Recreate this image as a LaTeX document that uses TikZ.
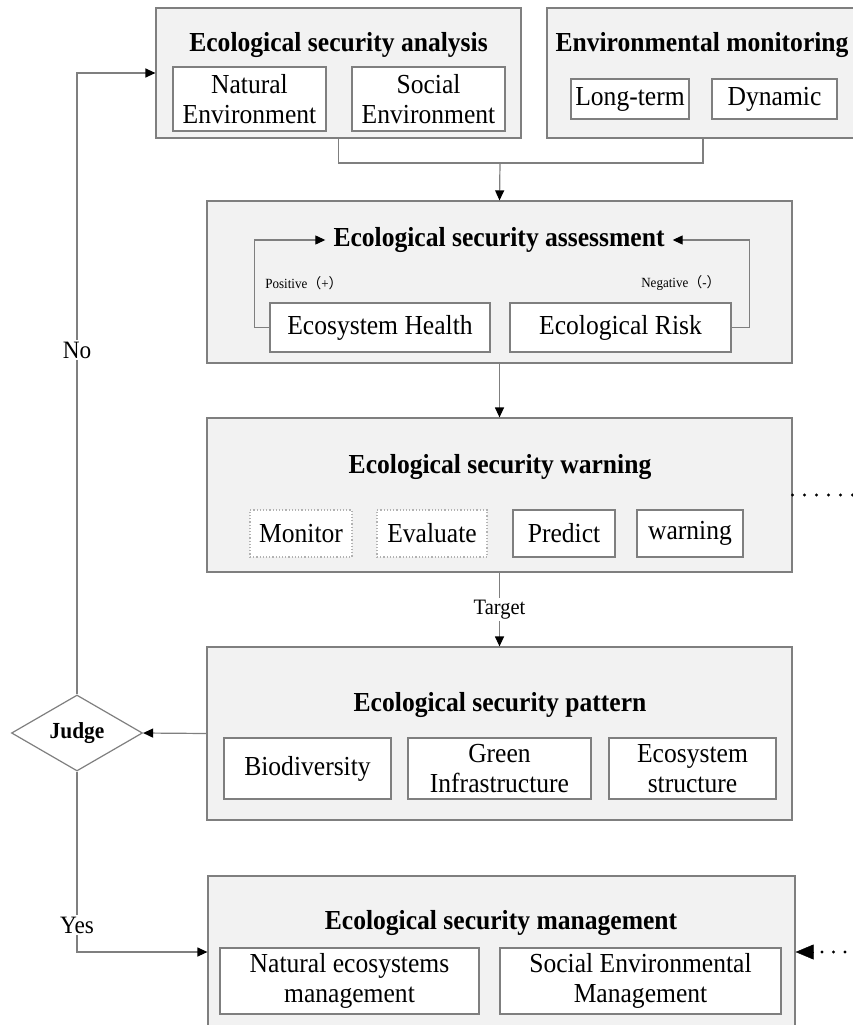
\documentclass[tikz,border=0pt]{standalone}
\usepackage{fontspec}
\setmainfont[FakeStretch=0.93]{Liberation Serif}
\newfontfamily\cjk{Noto Sans CJK SC}
\usetikzlibrary{shapes.geometric,arrows.meta}
\definecolor{panelgray}{HTML}{F2F2F2}
\definecolor{linegray}{HTML}{7F7F7F}
\newcommand\boxfont{\fontsize{27.5}{30}\selectfont}
\tikzstyle{panel}=[draw=linegray, fill=panelgray, line width=1.2pt, inner sep=0pt]
\tikzstyle{item}=[draw=linegray, fill=white, line width=1.2pt, inner sep=0pt, align=center, font=\boxfont]
\tikzstyle{dotitem}=[item, draw=gray!60, dotted]
\tikzstyle{title}=[inner sep=0pt, inner xsep=8pt, font=\boxfont\bfseries]
\tikzstyle{link}=[draw=linegray, line width=1.2pt]
\tikzstyle{flow}=[link, -{Triangle[length=10pt,width=9pt,color=black]}]
\tikzstyle{note}=[fill=white, inner sep=2pt]
\tikzstyle{more}=[line width=3.3pt, line cap=round]

\begin{document}
\begin{tikzpicture}[x=1pt, y=-1pt]
\useasboundingbox (0,0) rectangle (853,1025);
\clip (0,0) rectangle (853,1025);
% Analysis and monitoring
    \node[panel, minimum width=365pt, minimum height=130pt] (ana) at (338.5,73) {};
    \node[title] (anat) at (338.5,45) {Ecological security analysis};
    \node[item, minimum width=153pt, minimum height=64pt] (natenv) at (249.5,99) {Natural\\Environment};
    \node[item, minimum width=153pt, minimum height=64pt] (socenv) at (428.5,99) {Social\\Environment};
    \node[panel, minimum width=312pt, minimum height=130pt] (mon) at (703,73) {};
    \node[title] (mont) at (702,45) {Environmental monitoring};
    \node[item, minimum width=118pt, minimum height=40pt] (longt) at (630,99) {Long-term};
    \node[item, minimum width=125pt, minimum height=40pt] (dyn) at (774.5,99) {Dynamic};
% Assessment
    \node[panel, minimum width=585pt, minimum height=162pt] (asm) at (499.5,282) {};
    \node[title] (asmt) at (499,240) {Ecological security assessment};
    \node[item, minimum width=220pt, minimum height=49pt] (health) at (380,327.5) {Ecosystem Health};
    \node[item, minimum width=221pt, minimum height=49pt] (risk) at (620.5,327.5) {Ecological Risk};
    \node[font=\fontsize{14}{15}\selectfont] (pos) at (304,283) {Positive{\cjk （}+{\cjk ）}};
    \node[font=\fontsize{14}{15}\selectfont] (neg) at (681,283) {Negative{\cjk （}-{\cjk ）}};
% Warning
    \node[panel, minimum width=585pt, minimum height=154pt] (warn) at (499.5,495) {};
    \node[title] (warnt) at (500,467) {Ecological security warning};
    \node[dotitem, minimum width=102pt, minimum height=47pt] (moni) at (301,533.5) {Monitor};
    \node[dotitem, minimum width=110pt, minimum height=47pt] (eval) at (432,533.5) {Evaluate};
    \node[item, minimum width=102pt, minimum height=47pt] (pred) at (564,533.5) {Predict};
    \node[item, minimum width=106pt, minimum height=47pt] (warni) at (690,533.5) {warning};
% Pattern
    \node[panel, minimum width=585pt, minimum height=173pt] (pat) at (499.5,733.5) {};
    \node[title] (patt) at (500,705) {Ecological security pattern};
    \node[item, minimum width=167pt, minimum height=61pt] (bio) at (307.5,768.5) {Biodiversity};
    \node[item, minimum width=183pt, minimum height=61pt] (green) at (499.5,768.5) {Green\\Infrastructure};
    \node[item, minimum width=167pt, minimum height=61pt] (ecos) at (692.5,768.5) {Ecosystem\\structure};
% Judge
    \node[diamond, draw=linegray, fill=white, line width=1.2pt, inner sep=0pt, aspect=1.7,
          minimum width=131pt, minimum height=76pt, font=\fontsize{23}{25}\selectfont\bfseries] (judge) at (77,733) {Judge};
% Management
    \node[panel, minimum width=587pt, minimum height=152pt] (mgmt) at (501.5,952) {};
    \node[title] (mgmtt) at (501,923) {Ecological security management};
    \node[item, minimum width=259pt, minimum height=66pt] (natman) at (349.5,981) {Natural ecosystems\\management};
    \node[item, minimum width=281pt, minimum height=66pt] (socman) at (640.5,981) {Social Environmental\\Management};
% Connectors
    \coordinate (join) at (500,163);
    \draw[link] (ana.south) |- (join) -| (mon.south);
    \draw[flow] (join) -- (asm.north);
    \draw[flow] (health.west) -- ++(-15,0) |- (asmt.west);
    \draw[flow] (risk.east) -- ++(18,0) |- (asmt.east);
    \draw[flow] (asm.south) -- (warn.north);
    \draw[flow] (warn.south) -- node[note, font=\fontsize{22}{23}\selectfont] (target) {Target} (pat.north);
    \draw[flow] (pat.west) -- (judge.east);
    \draw[flow] (judge.north) |- node[note, pos=0.277, font=\fontsize{25}{26}\selectfont] (no) {No} (ana.west);
    \draw[flow] (judge.south) |- node[note, pos=0.425, font=\fontsize{25}{26}\selectfont] (yes) {Yes} (mgmt.west);
% Continuations
    \coordinate (more1) at (792.5,495);
    \coordinate (more2) at (822,952);
    \coordinate (tip2) at (813,952);
    \draw[more, dash pattern=on 0pt off 12pt] (more1) -- ++(66,0);
    \draw[more, dash pattern=on 0pt off 11.5pt] (more2) -- ++(36,0);
    \draw[-{Triangle[length=18pt,width=15pt]}] (tip2) -- (mgmt.east);
\end{tikzpicture}
\end{document}
